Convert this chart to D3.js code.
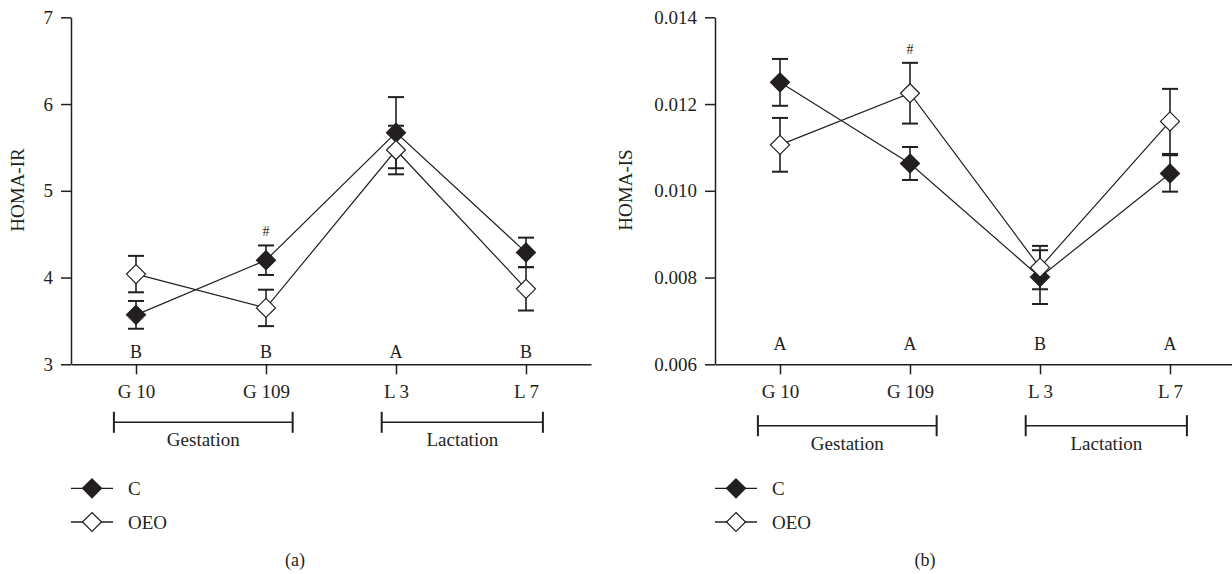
<!DOCTYPE html>
<html>
<head>
<meta charset="utf-8">
<script src="https://cdn.jsdelivr.net/npm/d3@7"></script>
<style>
  body { margin: 0; background: #fff; }
  svg { display: block; font-family: "Liberation Serif", "Times New Roman", serif; }
</style>
</head>
<body>
<div id="chart"></div>
<script>
// data
const days = ["G 10", "G 109", "L 3", "L 7"];
const groups = ["C", "OEO"];
const phases = ["Gestation", "Lactation"];

const irC = [3.57, 4.20, 5.67, 4.29];
const irCse = [0.16, 0.17, 0.41, 0.17];
const irOEO = [4.04, 3.65, 5.47, 3.87];
const irOEOse = [0.21, 0.21, 0.28, 0.25];
const irLetters = ["B", "B", "A", "B"];
const irTicks = [3, 4, 5, 6, 7];

const isC = [0.01250, 0.01063, 0.00801, 0.01040];
const isCse = [0.00054, 0.00038, 0.00062, 0.00042];
const isOEO = [0.01106, 0.01225, 0.00823, 0.01160];
const isOEOse = [0.00062, 0.00070, 0.00050, 0.00075];
const isLetters = ["A", "A", "B", "A"];
const isTicks = [0.006, 0.008, 0.010, 0.012, 0.014];

const hashDays = ["G 109"];   // # marks

const ink = "#231f20";

const svg = d3.select("#chart").append("svg")
  .attr("width", 1232)
  .attr("height", 574);

const diamond = r => `M0,${-r}L${r},0L0,${r}L${-r},0Z`;

function panel(opt) {
  const g = svg.append("g").attr("transform", `translate(${opt.x0},0)`);

  const x = d3.scalePoint().domain(days).range([0, 520]).padding(0.5);
  const y = d3.scaleLinear().domain(d3.extent(opt.ticks)).range([364.3, 17.3]);
  const step = x.step();

  // axes
  const yAx = g.append("g")
    .call(d3.axisLeft(y).tickValues(opt.ticks).tickSize(10).tickSizeOuter(0)
      .tickPadding(8).tickFormat(opt.fmt));
  const xAx = g.append("g")
    .attr("transform", `translate(0,${y.range()[0]})`)
    .call(d3.axisBottom(x).tickSize(10).tickSizeOuter(0).tickPadding(10.5));
  [yAx, xAx].forEach(a => {
    a.selectAll("path, line").attr("stroke", ink).attr("stroke-width", 1.5);
    a.selectAll("text").attr("fill", ink).style("font-size", "19px")
      .style("font-family", "Liberation Serif, serif");
  });

  g.append("text")
    .attr("transform", `translate(${opt.titleX},190) rotate(-90)`)
    .attr("text-anchor", "middle")
    .attr("fill", ink)
    .style("font-size", "19px")
    .text(opt.title);

  // significance letters
  g.selectAll(".letter")
    .data(opt.letters)
    .join("text")
      .attr("x", (d, i) => x(days[i]))
      .attr("y", opt.letterY)
      .attr("text-anchor", "middle")
      .attr("fill", ink)
      .style("font-size", "18px")
      .text(d => d);

  const series = [
    { name: "C", vals: opt.c, se: opt.cse, fill: ink },
    { name: "OEO", vals: opt.o, se: opt.ose, fill: "#fff" }
  ];

  // error bars
  series.forEach(s => {
    const eb = g.append("g").attr("stroke", ink).attr("stroke-width", 1.6);
    s.vals.forEach((v, i) => {
      const cx = x(days[i]);
      eb.append("line").attr("x1", cx).attr("x2", cx)
        .attr("y1", y(v - s.se[i])).attr("y2", y(v + s.se[i]));
      [v - s.se[i], v + s.se[i]].forEach(e => {
        eb.append("line").attr("x1", cx - 8).attr("x2", cx + 8)
          .attr("y1", y(e)).attr("y2", y(e)).attr("stroke-width", 2);
      });
    });
  });

  // lines
  const line = d3.line().x((d, i) => x(days[i])).y(d => y(d));
  g.selectAll(".line")
    .data(series)
    .join("path")
      .attr("fill", "none")
      .attr("stroke", ink)
      .attr("stroke-width", 1.2)
      .attr("d", d => line(d.vals));

  // markers
  series.forEach(s => {
    g.selectAll(`.dot-${s.name}`)
      .data(s.vals)
      .join("path")
        .attr("transform", (d, i) => `translate(${x(days[i])},${y(d)})`)
        .attr("d", diamond(9.5))
        .attr("fill", s.fill)
        .attr("stroke", ink)
        .attr("stroke-width", 1.2);
  });

  // # marks above the highest error bar
  hashDays.forEach(day => {
    const i = days.indexOf(day);
    const top = Math.max(opt.c[i] + opt.cse[i], opt.o[i] + opt.ose[i]);
    g.append("text")
      .attr("x", x(day))
      .attr("y", y(top) - 9)
      .attr("text-anchor", "middle")
      .attr("fill", ink)
      .style("font-size", "14px")
      .text("#");
  });

  // phase brackets
  const spans = [
    [x(days[0]) - 0.17 * step, x(days[1]) + 0.205 * step],
    [x(days[2]) - 0.11 * step, x(days[3]) + 0.13 * step]
  ];
  phases.forEach((p, k) => {
    const [a, b] = spans[k];
    const br = g.append("g").attr("stroke", ink).attr("stroke-width", 1.6);
    br.append("line").attr("x1", a).attr("x2", b).attr("y1", opt.bracketY).attr("y2", opt.bracketY);
    [a, b].forEach(e => br.append("line").attr("x1", e).attr("x2", e)
      .attr("y1", opt.bracketY - 10.5).attr("y2", opt.bracketY + 10.5).attr("stroke-width", 2));
    g.append("text")
      .attr("x", (a + b) / 2)
      .attr("y", opt.bracketY + 24)
      .attr("text-anchor", "middle")
      .attr("fill", ink)
      .style("font-size", "19px")
      .text(p);
  });

  // legend
  const legend = g.selectAll(".legend-item")
    .data(series)
    .join("g")
      .attr("transform", (d, i) => `translate(0,${488.3 + i * 33.7})`);
  legend.append("line")
    .attr("x1", 0).attr("x2", 42)
    .attr("stroke", ink).attr("stroke-width", 1.3);
  legend.append("path")
    .attr("transform", "translate(21,0)")
    .attr("d", diamond(9.5))
    .attr("fill", d => d.fill)
    .attr("stroke", ink)
    .attr("stroke-width", 1.2);
  legend.append("text")
    .attr("x", 57)
    .attr("y", 6.8)
    .attr("fill", ink)
    .style("font-size", "19px")
    .text(d => d.name);

  g.append("text")
    .attr("x", opt.tagX)
    .attr("y", 566)
    .attr("text-anchor", "middle")
    .attr("fill", ink)
    .style("font-size", "18px")
    .text(opt.tag);
}

panel({
  x0: 71, ticks: irTicks, fmt: d3.format("d"), title: "HOMA-IR", titleX: -47,
  c: irC, cse: irCse, o: irOEO, ose: irOEOse, letters: irLetters,
  letterY: 357.5, bracketY: 422.3, tagX: 224, tag: "(a)"
});

panel({
  x0: 715, ticks: isTicks, fmt: d3.format(".3f"), title: "HOMA-IS", titleX: -83,
  c: isC, cse: isCse, o: isOEO, ose: isOEOse, letters: isLetters,
  letterY: 350, bracketY: 425.7, tagX: 210, tag: "(b)"
});
</script>
</body>
</html>
